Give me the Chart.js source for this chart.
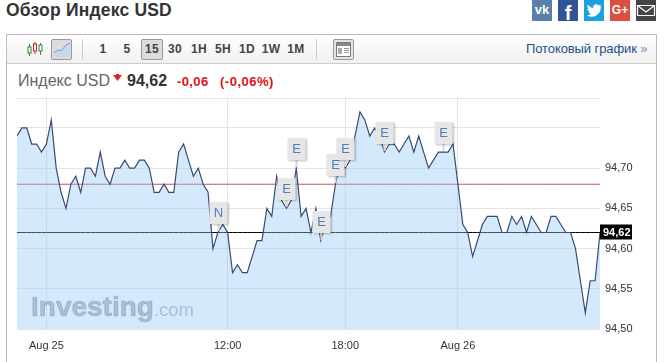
<!DOCTYPE html>
<html lang="ru">
<head>
<meta charset="utf-8">
<title>Обзор Индекс USD</title>
<script src="https://cdn.jsdelivr.net/npm/chart.js@4"></script>
<style>
  html, body { margin: 0; padding: 0; background: #fff; }
  body { width: 664px; height: 362px; position: relative; overflow: hidden; font-family: "Liberation Sans", Arial, sans-serif; color: #333; }
  .abs { position: absolute; white-space: nowrap; }
  #title { left: 6px; top: -1px; font-size: 17.500px; font-weight: bold; line-height: 22px; letter-spacing: .2px; }
  .soc { position: absolute; top: 0; width: 20px; height: 21px; color: #fff; text-align: center; font-weight: bold; overflow: hidden; }
  #panel { position: absolute; left: 6px; top: 34px; width: 649px; height: 340px; border: 1px solid #bbb; box-sizing: content-box; }
  #toolbar { position: absolute; left: 7px; top: 35px; width: 649px; height: 28px; background: linear-gradient(#fff, #f0f0f0); border-bottom: 1px solid #ccc; }
  .btn { position: absolute; top: 39px; height: 20px; line-height: 20px; font-size: 12px; font-weight: bold; color: #444; text-align: center; width: 22px; letter-spacing: .3px; }
  .on { background: #dcdcdc; border: 1px solid #999; border-radius: 2px; box-sizing: border-box; line-height: 19px; height: 21px; }
  .sep { position: absolute; top: 39px; width: 1px; height: 20px; background: #ccc; }
  #rule { position: absolute; left: 17px; top: 98px; width: 583px; height: 1px; background: #e6e6e6; }
  #chartBox { position: absolute; left: 17px; top: 99px; width: 633px; height: 263px; }
  #logo { left: 31px; top: 290px; font-size: 28px; line-height: 34px; font-weight: bold; color: rgba(100,120,145,.38); -webkit-text-stroke: .7px rgba(100,120,145,.38); }
  #logo span { font-size: 18.500px; font-weight: normal; -webkit-text-stroke: 0; }
</style>
</head>
<body>
<div class="abs" id="title">Обзор Индекс USD</div>

<div class="soc" style="left:532px;background:#5b80a8;font-size:13px;line-height:19px;">vk</div>
<div class="soc" style="left:558px;background:#2f5596;font-size:20px;line-height:27px;">f</div>
<div class="soc" style="left:584px;background:#1da1dc;">
  <svg width="20" height="21" viewBox="0 0 20 21"><path fill="#fff" d="M17 5.6c-.6.3-1.200.4-1.800.5.600-.4 1.100-1 1.300-1.700-.6.4-1.300.6-2 .8a3.100 3.100 0 0 0-5.300 2.800C7.600 7.900 5.300 6.700 3.800 4.800c-.8 1.400-.4 3.200 1 4.100-.5 0-1-.1-1.400-.4 0 1.500 1.100 2.800 2.500 3.100-.5.100-1 .1-1.400.1.400 1.200 1.500 2.100 2.900 2.100A6.300 6.300 0 0 1 3 15.200a8.900 8.900 0 0 0 13.700-7.900c.1-.5.200-1.100.3-1.700z"/></svg>
</div>
<div class="soc" style="left:610px;background:#dc4e41;font-size:12px;line-height:21px;">G+</div>
<div class="soc" style="left:636px;background:#444;">
  <svg width="20" height="21" viewBox="0 0 20 21"><path fill="none" stroke="#fff" stroke-width="1.200" d="M1.500 5.500h17v10h-17zM1.500 5.500l8.500 6.500 8.500-6.500"/></svg>
</div>

<div id="panel"></div>
<div id="toolbar"></div>

<svg class="abs" style="left:27px;top:42px;" width="16" height="15" viewBox="0 0 16 15">
  <path stroke="#2a8a2a" d="M2.500 2v12M13.500 1v12"/><path stroke="#c22" d="M8 0v12"/>
  <rect x="1" y="5" width="3" height="6" fill="#fff" stroke="#2a8a2a"/>
  <rect x="6.500" y="2" width="3" height="7" fill="#fff" stroke="#c22"/>
  <rect x="12" y="3" width="3" height="6" fill="#fff" stroke="#2a8a2a"/>
</svg>
<div class="btn on" style="left:51px;width:21px;">
  <svg style="position:absolute;left:2px;top:2px;" width="16" height="15" viewBox="0 0 16 15"><path d="M0 11l4-3 3 1 5-6 4-2v14H0z" fill="#c7d8ea"/><path d="M0 11l4-3 3 1 5-6 4-2" fill="none" stroke="#7f9fc4"/></svg>
</div>
<div class="sep" style="left:82px;"></div>
<div class="btn" style="left:92px;">1</div>
<div class="btn" style="left:116px;">5</div>
<div class="btn on" style="left:141px;">15</div>
<div class="btn" style="left:164px;">30</div>
<div class="btn" style="left:188px;">1H</div>
<div class="btn" style="left:212px;">5H</div>
<div class="btn" style="left:236px;">1D</div>
<div class="btn" style="left:260px;">1W</div>
<div class="btn" style="left:285px;">1M</div>
<div class="sep" style="left:316px;"></div>
<div class="btn on" style="left:333px;width:21px;background:#e4e4e4;">
  <svg style="position:absolute;left:2px;top:2px;" width="15" height="15" viewBox="0 0 15 15"><path d="M.5 .5h14v14H.5z" fill="#fff" stroke="#777"/><path d="M1 1h13v3H1z" fill="#888"/><path d="M2 6h4v6H2z" fill="#aaa"/><path stroke="#999" d="M8 6.500h5M8 8.500h5M8 10.500h5"/></svg>
</div>
<div class="abs" style="left:526px;top:41px;font-size:13px;line-height:15px;letter-spacing:-.1px;color:#24508a;">Потоковый график <span style="color:#6f8fb5;">»</span></div>

<div class="abs" style="left:18px;top:72px;font-size:16px;line-height:18px;color:#666;">Индекс USD</div>
<svg class="abs" style="left:113px;top:74px;" width="9" height="7" viewBox="0 0 9 7"><path d="M0 1h9L4.500 7z" fill="#e0202a"/><path d="M3 0h3v3H3z" fill="#e0202a"/></svg>
<div class="abs" style="left:127px;top:72px;font-size:16px;line-height:18px;font-weight:bold;">94,62</div>
<div class="abs" style="left:177px;top:74px;font-size:13px;line-height:16px;font-weight:bold;color:#dd1020;letter-spacing:.4px;">-0,06</div>
<div class="abs" style="left:220px;top:74px;font-size:13px;line-height:16px;font-weight:bold;color:#dd1020;letter-spacing:.5px;">(-0,06%)</div>
<div id="rule"></div>

<div id="chartBox"><canvas id="usdChart" width="633" height="263"></canvas></div>
<div class="abs" id="logo">Investing<span>.com</span></div>

<script>
// 15 min closes
const values = [
    94.74, 94.75, 94.75, 94.73, 94.73, 94.72, 94.73, 94.76, 94.70, 94.67,
    94.65, 94.68, 94.69, 94.67, 94.70, 94.70, 94.69, 94.72, 94.69, 94.68,
    94.70, 94.70, 94.71, 94.70, 94.70, 94.71, 94.71, 94.70, 94.67, 94.67,
    94.68, 94.67, 94.67, 94.72, 94.73, 94.71, 94.69, 94.70, 94.68, 94.67,
    94.60, 94.62, 94.63, 94.62, 94.57, 94.58, 94.57, 94.57, 94.59, 94.61,
    94.61, 94.65, 94.64, 94.69, 94.66, 94.65, 94.66, 94.70, 94.64, 94.65,
    94.62, 94.65, 94.61, 94.63, 94.64, 94.68, 94.71, 94.70, 94.71, 94.74,
    94.77, 94.76, 94.74, 94.75, 94.74, 94.72, 94.73, 94.73, 94.72, 94.73,
    94.74, 94.72, 94.74, 94.72, 94.70, 94.71, 94.72, 94.72, 94.72, 94.73,
    94.68, 94.63, 94.62, 94.59, 94.61, 94.63, 94.64, 94.64, 94.64, 94.62,
    94.62, 94.64, 94.63, 94.64, 94.62, 94.64, 94.63, 94.62, 94.62, 94.64,
    94.64, 94.63, 94.62, 94.62, 94.60, 94.56, 94.52, 94.56, 94.56, 94.62
];
const categories = values.map((v, i) => i);

const xTickIndex = [6, 43, 67, 90];
const xTickLabels = ['Aug 25', '12:00', '18:00', 'Aug 26'];
const yTicks = [94.50, 94.55, 94.60, 94.65, 94.70, 94.75];
const yTickLabels = ['94,50', '94,55', '94,60', '94,65', '94,70', ''];

const lastPrice = 94.62;
const lastPriceLabel = '94,62';
const prevClose = 94.68;

const flagIndex = [41, 55, 57, 62, 65, 67, 75, 87];
const flagLetters = ['N', 'E', 'E', 'E', 'E', 'E', 'E', 'E'];

const overlayPlugin = {
    id: 'overlay',
    afterDatasetsDraw(chart) {
        const c = chart.ctx;
        const x = chart.scales.x;
        const y = chart.scales.y;

        // little news flags sitting over their point
        flagIndex.forEach((idx, n) => {
            const px = Math.round(x.getPixelForValue(idx));
            const py = Math.round(y.getPixelForValue(values[idx]));
            const top = py - 30;
            c.save();
            c.fillStyle = '#d8d8d8';
            c.fillRect(px - 0.5, py - 8, 2, 7);
            c.shadowColor = 'rgba(0,0,0,.25)';
            c.shadowBlur = 2;
            c.shadowOffsetX = 1;
            c.shadowOffsetY = 1;
            c.fillStyle = '#e6e6e6';
            c.fillRect(px - 8.5, top, 18, 22);
            c.restore();
            c.fillStyle = '#4a7fc0';
            c.font = '13px "Liberation Sans", Arial, sans-serif';
            c.textAlign = 'center';
            c.textBaseline = 'middle';
            c.fillText(flagLetters[n], px + 0.5, top + 11.5);
        });

        // black price tag on the axis
        const tagY = y.getPixelForValue(lastPrice);
        c.fillStyle = '#000';
        c.fillRect(x.right, tagY - 8, 32, 15);
        c.fillStyle = '#fff';
        c.font = 'bold 11px "Liberation Sans", Arial, sans-serif';
        c.textAlign = 'left';
        c.textBaseline = 'middle';
        c.fillText(lastPriceLabel, x.right + 3, tagY);
    }
};

const ctx = document.getElementById('usdChart').getContext('2d');
const usdChart = new Chart(ctx, {
    type: 'line',
    data: {
        labels: categories,
        datasets: [
            {
                data: values.map(() => lastPrice),
                borderColor: '#000',
                borderWidth: 1,
                pointRadius: 0,
                fill: false,
                order: 3
            },
            {
                data: values.map(() => prevClose),
                borderColor: '#b9506a',
                borderWidth: 1,
                pointRadius: 0,
                fill: false,
                order: 2
            },
            {
                data: values,
                borderColor: '#3c4a6e',
                borderWidth: 1.2,
                backgroundColor: 'rgba(150,200,250,0.4)',
                pointRadius: 0,
                tension: 0,
                fill: 'start',
                order: 1
            }
        ]
    },
    options: {
        responsive: false,
        animation: false,
        layout: { padding: 0 },
        plugins: {
            legend: { display: false },
            tooltip: { enabled: false }
        },
        scales: {
            x: {
                type: 'category',
                offset: false,
                border: { display: false },
                grid: { color: '#e4e4e4', drawTicks: false },
                afterBuildTicks: (s) => { s.ticks = xTickIndex.map(i => ({ value: i })); },
                afterFit: (s) => { s.height = 33; s.paddingLeft = 0; s.paddingRight = 0; },
                ticks: {
                    autoSkip: false,
                    maxRotation: 0,
                    padding: 10,
                    color: '#333',
                    font: { family: '"Liberation Sans", Arial, sans-serif', size: 11 },
                    callback: (v) => xTickLabels[xTickIndex.indexOf(v)]
                }
            },
            y: {
                position: 'right',
                min: 94.50,
                max: 94.786,
                border: { display: false },
                grid: { color: '#e4e4e4', drawTicks: false },
                afterBuildTicks: (s) => { s.ticks = yTicks.map(v => ({ value: v })); },
                afterFit: (s) => { s.width = 50; s.paddingTop = 0; s.paddingBottom = 0; },
                ticks: {
                    padding: 5,
                    color: '#333',
                    font: { family: '"Liberation Sans", Arial, sans-serif', size: 11 },
                    callback: (v) => yTickLabels[yTicks.indexOf(v)]
                }
            }
        }
    },
    plugins: [overlayPlugin]
});
</script>
</body>
</html>
